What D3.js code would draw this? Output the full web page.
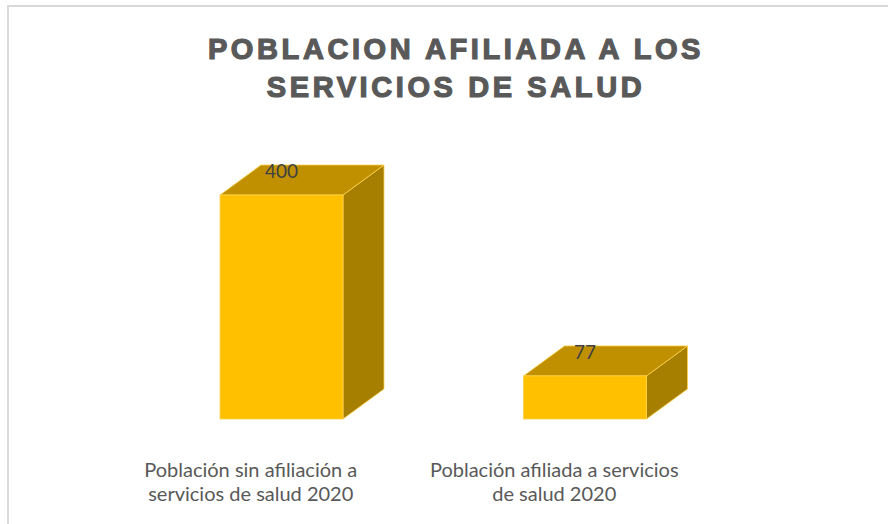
<!DOCTYPE html>
<html><head><meta charset="utf-8">
<script src="https://cdn.jsdelivr.net/npm/d3@7"></script>
<style>body{margin:0;background:#fff;} svg{display:block;}</style>
</head><body>
<svg id="c" width="888" height="524"></svg>
<script>
const titleLines = ["POBLACION AFILIADA A LOS", "SERVICIOS DE SALUD"];
const categories = ["Población sin afiliación a servicios de salud 2020", "Población afiliada a servicios de salud 2020"];
const categoryLines = [["Población sin afiliación a", "servicios de salud 2020"], ["Población afiliada a servicios", "de salud 2020"]];
const values = [400, 77];

const svg = d3.select("#c");
// chart border
svg.append("rect").attr("x", 8).attr("y", 6).attr("width", 900).attr("height", 540)
  .attr("fill", "none").attr("stroke", "#d9d9d9").attr("stroke-width", 2);

// title
const title = svg.append("text").attr("text-anchor", "middle")
  .attr("font-family", "Liberation Sans, Arial, sans-serif").attr("font-weight", "bold")
  .attr("font-size", 29).attr("letter-spacing", 3.6).attr("fill", "#595959")
  .attr("stroke", "#595959").attr("stroke-width", 1.2);
titleLines.forEach((t, i) => title.append("tspan").attr("x", 456).attr("y", 59 + i * 38).text(t));

const x = d3.scaleBand().domain(categories).range([98, 705]).padding(0);
const y = d3.scaleLinear().domain([0, 400]).range([419, 195]);
const dx = 41, dy = -30, off = 122, bw = 123;

const g = svg.append("g");
categories.forEach((c, i) => {
  const x0 = x(c) + off, x1 = x0 + bw, yt = y(values[i]), yb = y(0);
  const stroke = "#ffd24d";
  // side
  g.append("path").attr("d", `M${x1},${yb}L${x1 + dx},${yb + dy}L${x1 + dx},${yt + dy}L${x1},${yt}Z`)
    .attr("fill", "#a67f00").attr("stroke", stroke).attr("stroke-width", 0.8);
  // top
  g.append("path").attr("d", `M${x0},${yt}L${x0 + dx},${yt + dy}L${x1 + dx},${yt + dy}L${x1},${yt}Z`)
    .attr("fill", "#c09000").attr("stroke", stroke).attr("stroke-width", 0.8);
  // front
  g.append("rect").attr("x", x0).attr("y", yt).attr("width", bw).attr("height", yb - yt)
    .attr("fill", "#ffc000").attr("stroke", stroke).attr("stroke-width", 0.8);
  // value label
  g.append("text").attr("x", x0 + bw / 2).attr("y", yt + dy + 13)
    .attr("text-anchor", "middle").attr("font-family", "Lato, sans-serif").attr("font-size", 19)
    .attr("fill", "#404040").text(values[i]);
  // category labels
  const t = g.append("text").attr("text-anchor", "middle").attr("font-family", "Lato, sans-serif")
    .attr("font-size", 20).attr("fill", "#595959");
  categoryLines[i].forEach((l, j) => t.append("tspan").attr("x", x(c) + x.bandwidth() / 2 + 1).attr("y", 477 + j * 24).text(l));
});
</script>
</body></html>
